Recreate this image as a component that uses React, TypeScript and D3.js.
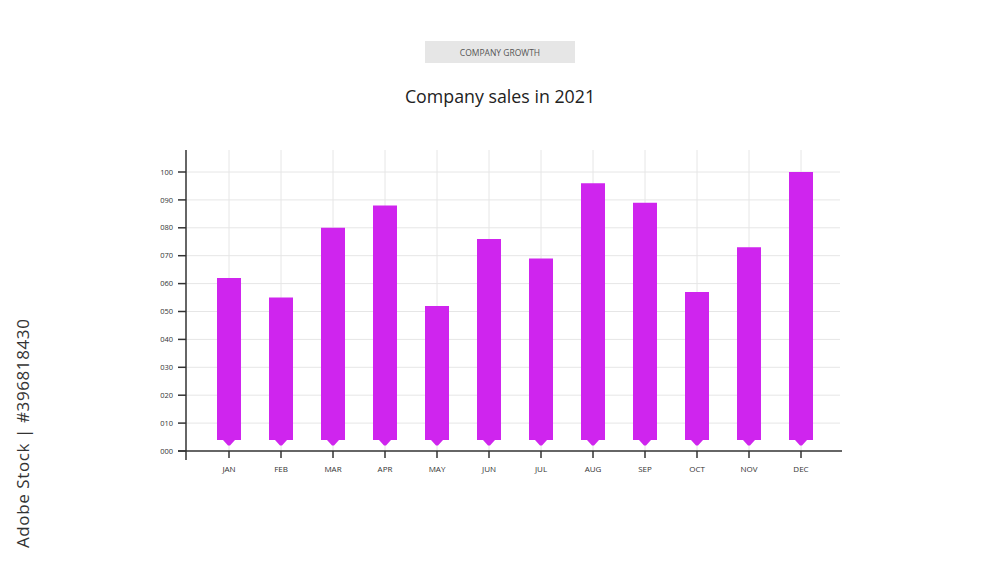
import { useRef, useEffect } from 'react';
import * as d3 from 'd3';

const months = ['JAN', 'FEB', 'MAR', 'APR', 'MAY', 'JUN', 'JUL', 'AUG', 'SEP', 'OCT', 'NOV', 'DEC'];
const sales = [62, 55, 80, 88, 52, 76, 69, 96, 89, 57, 73, 100];
const yTicks = [0, 10, 20, 30, 40, 50, 60, 70, 80, 90, 100];

const FONT = '"Open Sans", "Noto Sans", sans-serif';

const App = () => {
  const svgRef = useRef<SVGSVGElement>(null);

  useEffect(() => {
    if (!svgRef.current) return;

    const width = 1000;
    const height = 563;

    const svg = d3.select(svgRef.current).attr('width', width).attr('height', height);
    svg.selectAll('*').remove();

    svg.append('rect').attr('width', width).attr('height', height).attr('fill', '#fff');

    const x = d3.scaleBand<string>().domain(months).range([203, 827]).padding(0);
    const y = d3.scaleLinear().domain([0, 100]).range([451, 172]);
    const cx = (m: string) => (x(m) as number) + x.bandwidth() / 2;

    const barW = 24;
    const top = 150;
    const left = 186;
    const right = 840;

    // header box
    svg.append('rect').attr('x', 425).attr('y', 41).attr('width', 150).attr('height', 22).attr('fill', '#e6e6e6');
    svg.append('text').attr('x', 500).attr('y', 55.5).attr('text-anchor', 'middle')
      .attr('font-family', FONT).attr('font-size', 8.5).attr('fill', '#555').text('COMPANY GROWTH');

    svg.append('text').attr('x', 500).attr('y', 103).attr('text-anchor', 'middle')
      .attr('font-family', FONT).attr('font-size', 17.8).attr('fill', '#222').text('Company sales in 2021');

    // grid
    const grid = svg.append('g').attr('stroke', '#e6e6e6').attr('stroke-width', 1);
    grid.selectAll('line.h').data(yTicks.slice(1)).enter().append('line')
      .attr('x1', left).attr('x2', right).attr('y1', (d) => y(d)).attr('y2', (d) => y(d));
    grid.selectAll('line.v').data(months).enter().append('line')
      .attr('x1', (d) => cx(d)).attr('x2', (d) => cx(d)).attr('y1', top).attr('y2', y(0));

    // bars with arrow bottom
    const bottom = y(0) - 11;
    svg.append('g').selectAll('path').data(months).enter().append('path')
      .attr('fill', '#cf25ee')
      .attr('d', (m, i) => {
        const c = cx(m);
        const t = y(sales[i]);
        const l = c - barW / 2;
        const r = c + barW / 2;
        return `M${l},${t}H${r}V${bottom}H${c + 6}L${c + 1},${bottom + 5.5}H${c - 1}L${c - 6},${bottom}H${l}Z`;
      });

    // axes
    const axis = svg.append('g').attr('stroke', '#333').attr('stroke-width', 1.5);
    axis.append('line').attr('x1', left).attr('x2', left).attr('y1', top).attr('y2', 460);
    axis.append('line').attr('x1', 178).attr('x2', 842).attr('y1', y(0)).attr('y2', y(0));
    axis.selectAll('line.yt').data(yTicks).enter().append('line')
      .attr('x1', 178).attr('x2', left).attr('y1', (d) => y(d)).attr('y2', (d) => y(d));
    axis.selectAll('line.xt').data(months).enter().append('line')
      .attr('x1', (d) => cx(d)).attr('x2', (d) => cx(d)).attr('y1', y(0)).attr('y2', y(0) + 7);

    svg.append('g').selectAll('text').data(yTicks).enter().append('text')
      .attr('x', 173).attr('y', (d) => y(d)).attr('dy', '0.35em').attr('text-anchor', 'end')
      .attr('font-family', FONT).attr('font-size', 7.5).attr('fill', '#333')
      .text((d) => d3.format('03d')(d));

    svg.append('g').selectAll('text').data(months).enter().append('text')
      .attr('x', (d) => cx(d)).attr('y', 472).attr('text-anchor', 'middle')
      .attr('font-family', FONT).attr('font-size', 8).attr('fill', '#333')
      .text((d) => d);

    // side credit
    svg.append('text').attr('transform', 'translate(29,548) rotate(-90)')
      .attr('font-family', FONT).attr('font-size', 17).attr('fill', '#333')
      .attr('letter-spacing', 0.6)
      .text('Adobe Stock | #396818430');
  }, []);

  return (
    <div style={{ margin: -8 }}>
      <svg ref={svgRef} style={{ display: 'block' }}></svg>
    </div>
  );
};

export default App;
